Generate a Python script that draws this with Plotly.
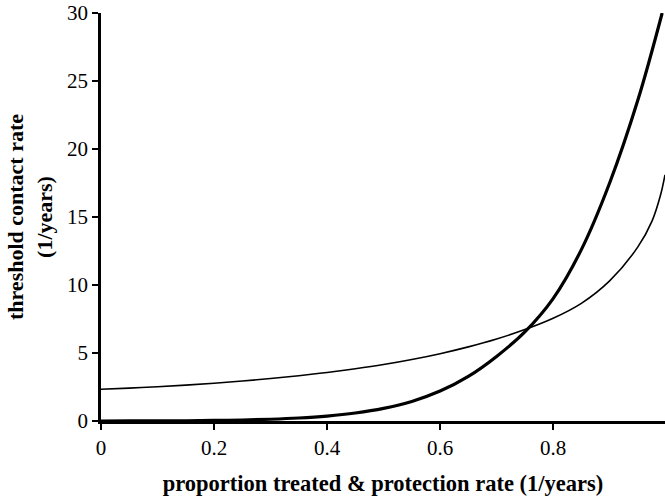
import plotly.graph_objects as go

# proportion treated & protection rate (1/years)
x_thin = [0.0, 0.05, 0.1, 0.15, 0.2, 0.25, 0.3, 0.35, 0.4, 0.45, 0.5, 0.55, 0.6, 0.65,
          0.7, 0.75, 0.8, 0.85, 0.9, 0.95, 0.975, 0.99, 0.998]
# threshold contact rate, first scenario (thin curve)
y_thin = [2.33, 2.42, 2.52, 2.64, 2.78, 2.94, 3.12, 3.33, 3.57, 3.84, 4.15, 4.52, 4.95, 5.45,
          6.03, 6.72, 7.55, 8.65, 10.3, 12.8, 14.7, 16.6, 18.1]

x_thick = [0.0, 0.05, 0.1, 0.15, 0.2, 0.25, 0.3, 0.35, 0.4, 0.45, 0.5, 0.55, 0.6, 0.65,
           0.7, 0.75, 0.8, 0.85, 0.9, 0.95, 0.993]
# threshold contact rate, second scenario (thick curve)
y_thick = [0.0, 0.004, 0.01, 0.02, 0.04, 0.075, 0.13, 0.22, 0.365, 0.59, 0.93, 1.44, 2.2, 3.28,
           4.75, 6.55, 9.0, 12.6, 17.5, 23.6, 30.0]

x_ticks = [0, 0.2, 0.4, 0.6, 0.8]
x_tick_text = ["0", "0.2", "0.4", "0.6", "0.8"]
y_ticks = [0, 5, 10, 15, 20, 25, 30]

serif = "Liberation Serif, Times New Roman, serif"

fig = go.Figure()
fig.add_trace(go.Scatter(x=x_thin, y=y_thin, mode="lines",
                         line=dict(color="black", width=1.6, shape="spline", smoothing=1.0),
                         showlegend=False))
fig.add_trace(go.Scatter(x=x_thick, y=y_thick, mode="lines",
                         line=dict(color="black", width=3.2, shape="spline", smoothing=1.0),
                         showlegend=False))

fig.update_layout(
    width=665, height=500,
    margin=dict(l=101, r=0, t=13, b=79),
    paper_bgcolor="white", plot_bgcolor="white",
    font=dict(family=serif, color="black"),
    xaxis=dict(range=[0, 0.998], tickvals=x_ticks, ticktext=x_tick_text,
               showline=True, linecolor="black", linewidth=2.5,
               ticks="outside", ticklen=6, tickwidth=2, tickcolor="black",
               showgrid=False, zeroline=False, tickfont=dict(size=21),
               title=dict(text="<b>proportion treated &amp; protection rate (1/years)</b>",
                          font=dict(size=22.5), standoff=17)),
    yaxis=dict(range=[0, 30], tickvals=y_ticks,
               showline=True, linecolor="black", linewidth=2.5,
               ticks="outside", ticklen=6, tickwidth=2, tickcolor="black",
               showgrid=False, zeroline=False, tickfont=dict(size=21),
               title=dict(text="<b>threshold contact rate<br>(1/years)</b>",
                          font=dict(size=22), standoff=9)),
)

fig.write_html("out.html")
